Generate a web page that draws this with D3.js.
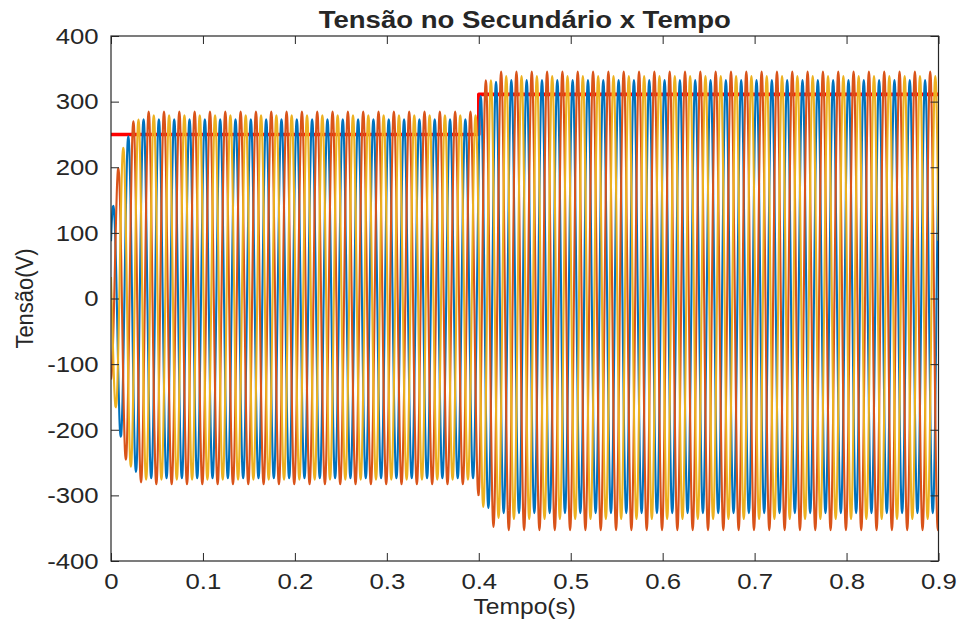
<!DOCTYPE html>
<html>
<head>
<meta charset="utf-8">
<script src="https://cdn.jsdelivr.net/npm/d3@7"></script>
<style>
  body { margin: 0; background: #fff; }
  text { font-family: "Liberation Sans", Arial, Helvetica, sans-serif; fill: #262626; }
</style>
</head>
<body>
<svg id="chart" width="960" height="627"></svg>
<script>
// ---- axis ticks ----
const xTicks = [0, 0.1, 0.2, 0.3, 0.4, 0.5, 0.6, 0.7, 0.8, 0.9];
const yTicks = [-400, -300, -200, -100, 0, 100, 200, 300, 400];

// ---- waveform description ----
const FREQ = 60;               // Hz
const CYCLES = 54;             // 0 .. 0.9 s
const SAMPLES_PER_CYCLE = 24;  // 15 degree steps
// one normalised cycle, starting at the positive peak
const cycleShape = [1.00, 0.97, 0.87, 0.71, 0.50, 0.26, 0.00, -0.26, -0.50, -0.71, -0.87, -0.97,
                    -1.00, -0.97, -0.87, -0.71, -0.50, -0.26, 0.00, 0.26, 0.50, 0.71, 0.87, 0.97];

const phaseNames  = ["Va", "Vb", "Vc"];
const phaseColors = ["#0072BD", "#D95319", "#EDB120"];
const phasePeakSample = [3, 11, 19];         // sample index of first positive peak
// peak voltages before the step (0 - 0.4 s)
const peakPos1 = [273, 285, 279];
const peakNeg1 = [-274, -283, -276];
// peak voltages after the step (0.4 - 0.9 s)
const peakPos2 = [333, 346, 339];
const peakNeg2 = [-327, -353, -336];

// start-up growth of the amplitude (time s, fraction of steady value)
const startEnvelope = [[0, 0.45], [0.005, 0.6], [0.009, 0.74], [0.013, 0.82], [0.018, 0.9],
                       [0.023, 0.94], [0.028, 0.97], [0.035, 1]];
// transition between the two amplitude levels (time s, fraction of new level)
const stepBlend = [[0, 0], [0.398, 0], [0.401, 0.55], [0.405, 0.7], [0.41, 0.85],
                   [0.416, 0.93], [0.425, 1], [0.9, 1]];

// reference amplitude (red)
const refTime  = [0, 0.4, 0.4, 0.9];
const refValue = [250, 250, 311, 311];

// ---- layout ----
const svg = d3.select("#chart");
const W = 960, H = 627;
const plot = { left: 111, right: 938.5, top: 36, bottom: 561 };

const x = d3.scaleLinear().domain([0, 0.9]).range([plot.left, plot.right]);
const y = d3.scaleLinear().domain([-400, 400]).range([plot.bottom, plot.top]);

svg.append("rect").attr("width", W).attr("height", H).attr("fill", "#fff");

svg.append("defs").append("clipPath").attr("id", "plotClip")
  .append("rect")
  .attr("x", plot.left).attr("y", plot.top)
  .attr("width", plot.right - plot.left).attr("height", plot.bottom - plot.top);

// piecewise-linear lookup in [t, value] tables
function lookup(table, t) {
  const times = table.map(d => d[0]);
  const vals = table.map(d => d[1]);
  return d3.scaleLinear().domain(times).range(vals).clamp(true)(t);
}

// build sample series for each phase
const nSamples = CYCLES * SAMPLES_PER_CYCLE;
const series = phaseNames.map((name, p) => {
  const pts = [];
  for (let i = 0; i <= nSamples; i++) {
    const t = i / (FREQ * SAMPLES_PER_CYCLE);
    const idx = (((i - phasePeakSample[p]) % SAMPLES_PER_CYCLE) + SAMPLES_PER_CYCLE) % SAMPLES_PER_CYCLE;
    const s = cycleShape[idx];
    const b = lookup(stepBlend, t);
    const k = lookup(startEnvelope, t);
    const amp = s >= 0
      ? peakPos1[p] + (peakPos2[p] - peakPos1[p]) * b
      : -(peakNeg1[p] + (peakNeg2[p] - peakNeg1[p]) * b);
    pts.push([t, s * amp * k]);
  }
  return { name, color: phaseColors[p], pts };
});

const gPlot = svg.append("g").attr("clip-path", "url(#plotClip)");

// reference level
const refLine = d3.line().x(d => x(d[0])).y(d => y(d[1]));
gPlot.append("path")
  .datum(refTime.map((t, i) => [t, refValue[i]]))
  .attr("d", refLine)
  .attr("fill", "none")
  .attr("stroke", "#FF0000")
  .attr("stroke-width", 3.6)
  .attr("stroke-linejoin", "round");

// phase voltages
const waveLine = d3.line().x(d => x(d[0])).y(d => y(d[1])).curve(d3.curveMonotoneX);
gPlot.selectAll("path.phase")
  .data(series)
  .join("path")
  .attr("class", "phase")
  .attr("d", d => waveLine(d.pts))
  .attr("fill", "none")
  .attr("stroke", d => d.color)
  .attr("stroke-width", 2.1)
  .attr("stroke-linejoin", "round");

// ---- axes ----
const TICK = 8;
const SX = 1.12; // horizontal stretch of the lettering
const axisColor = "#262626";

function styleAxis(g) {
  g.select(".domain").remove();
  g.selectAll(".tick line").attr("stroke", axisColor).attr("stroke-width", 1);
}

const gx = svg.append("g").attr("transform", `translate(0,${plot.bottom})`)
  .call(d3.axisBottom(x).tickValues(xTicks).tickSize(-TICK).tickPadding(12)
    .tickFormat(d => d === 0 ? "0" : d3.format(".1f")(d)));
styleAxis(gx);
gx.selectAll(".tick text").attr("font-size", 23).attr("fill", axisColor)
  .attr("transform", `scale(${SX},1)`);

const gy = svg.append("g").attr("transform", `translate(${plot.left},0)`)
  .call(d3.axisLeft(y).tickValues(yTicks).tickSize(-TICK).tickPadding(11)
    .tickFormat(d => String(d)));
styleAxis(gy);
gy.selectAll(".tick text").attr("font-size", 23).attr("fill", axisColor)
  .attr("transform", `scale(${SX},1)`);

const gxTop = svg.append("g").attr("transform", `translate(0,${plot.top})`)
  .call(d3.axisTop(x).tickValues(xTicks).tickSize(-TICK).tickFormat(""));
styleAxis(gxTop);
const gyRight = svg.append("g").attr("transform", `translate(${plot.right},0)`)
  .call(d3.axisRight(y).tickValues(yTicks).tickSize(-TICK).tickFormat(""));
styleAxis(gyRight);

// box
svg.append("rect")
  .attr("x", plot.left).attr("y", plot.top)
  .attr("width", plot.right - plot.left).attr("height", plot.bottom - plot.top)
  .attr("fill", "none").attr("stroke", axisColor).attr("stroke-width", 1.2);

// ---- titles ----
const cx = (plot.left + plot.right) / 2;
svg.append("text")
  .attr("transform", `translate(${cx},28) scale(${SX},1)`)
  .attr("text-anchor", "middle")
  .attr("font-size", 24.6).attr("font-weight", "bold").attr("fill", "#000")
  .text("Tensão no Secundário x Tempo");

svg.append("text")
  .attr("transform", `translate(${cx},614) scale(${SX},1)`)
  .attr("text-anchor", "middle")
  .attr("font-size", 22).attr("fill", axisColor)
  .text("Tempo(s)");

svg.append("text")
  .attr("transform", `translate(33,${(plot.top + plot.bottom) / 2}) scale(${SX},1) rotate(-90)`)
  .attr("text-anchor", "middle")
  .attr("font-size", 22).attr("fill", axisColor)
  .text("Tensão(V)");
</script>
</body>
</html>
